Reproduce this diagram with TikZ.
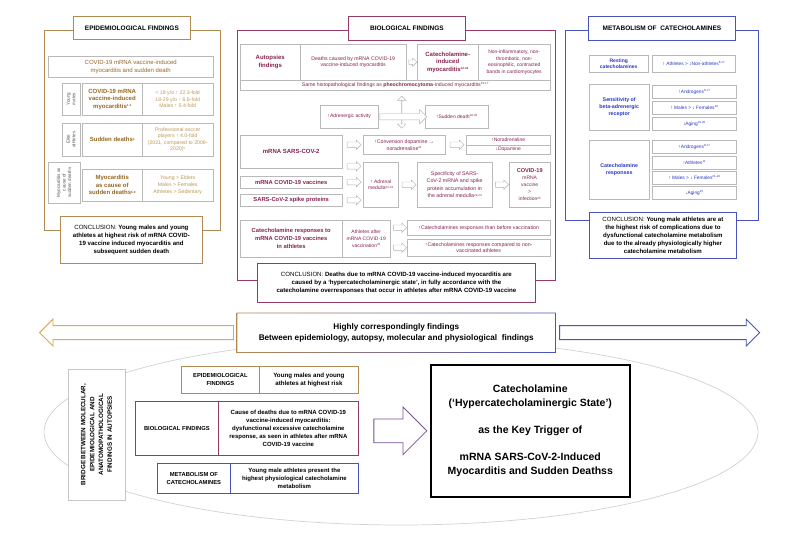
\documentclass[tikz,border=0pt]{standalone}
\usepackage{fontspec}
\setmainfont{Liberation Sans}
\usetikzlibrary{positioning,calc,shapes.arrows}

\definecolor{epicol}{RGB}{178,138,84}
\definecolor{epitxt}{RGB}{150,104,36}
\definecolor{epilight}{RGB}{192,152,88}
\definecolor{biocol}{RGB}{150,58,100}
\definecolor{biotxt}{RGB}{135,35,80}
\definecolor{metcol}{RGB}{72,84,188}
\definecolor{mettxt}{RGB}{40,55,195}
\definecolor{goldarr}{RGB}{226,168,76}
\definecolor{purparr}{RGB}{118,84,150}

\newcommand{\fz}[2]{\fontsize{#1}{#2}\selectfont}
\newcommand{\rf}[1]{\raisebox{1.6pt}{\fz{3}{3}#1}}

\begin{document}
\begin{tikzpicture}[x=1pt, y=-1pt,
  cell/.style={draw=gray!55, fill=white, align=center, inner xsep=1.5pt, inner ysep=0pt, line width=0.4pt},
  wh/.style 2 args={anchor=north west, minimum width=#1, minimum height=#2},
  frm/.style={draw, line width=0.8pt, inner sep=0pt},
  ttl/.style={cell, line width=0.8pt, font=\bfseries\fz{6.5}{7.5}},
  conc/.style={cell, line width=0.8pt, font=\bfseries\fz{6.1}{8.2}},
  blk/.style={single arrow, draw=gray!60, fill=white, inner xsep=0pt, inner ysep=2.5pt, line width=0.4pt,
    minimum height=14, single arrow head extend=2pt},
  bigarr/.style={single arrow, fill=white, inner xsep=0pt, inner ysep=6.5pt, line width=0.9pt,
    single arrow head extend=6.5pt},
]
\useasboundingbox[fill=white] (0,0) rectangle (800,533);

% epidemiological findings
\node[frm, draw=epicol, wh={176}{200}] (epiframe) at (44,30) {};
\node[ttl, draw=epicol, wh={117}{23}] (epititle) at (73,16) {EPIDEMIOLOGICAL FINDINGS};
\node[cell, wh={165}{21}, text=epitxt, font=\fz{6}{7.8}] (epitop) at (48,56) {COVID-19 mRNA vaccine-induced\\myocarditis and sudden death};

\node[cell, rotate=90, minimum width=32, minimum height=18, text=black!65, font=\fz{4.6}{5.4}] (ymlab) at (71,99) {Young\\males};
\node[cell, wh={60}{32}, text=epitxt, font=\bfseries\fz{6}{7.6}] (ymmain) at (82,83) {COVID-19 mRNA\\vaccine-induced\\myocarditis\rf{1-3}};
\node[cell, wh={71}{32}, text=epilight, font=\fz{5.2}{6.6}] (ymval) at (142,83) {< 18 y/o ↑ 22.3-fold\\18-29 y/o ↑ 6.8-fold\\Males ↑ 5.4-fold};

\node[cell, rotate=90, minimum width=33, minimum height=18, text=black!65, font=\fz{4.6}{5.4}] (ealab) at (71,139.5) {Elite\\athletes};
\node[cell, wh={60}{33}, text=epitxt, font=\bfseries\fz{6}{7.6}] (eamain) at (82,123) {Sudden deaths\rf{4}};
\node[cell, wh={71}{33}, text=epilight, font=\fz{5.2}{6.4}] (eaval) at (142,123) {Professional soccer\\players ↑ 4.0-fold\\(2021, compared to 2009-\\2020)\rf{5}};

\node[cell, rotate=90, minimum width=41, minimum height=32, text=black!65, font=\fz{4.6}{5.6}] (mclab) at (64,182.5) {Myocarditis as\\cause of\\sudden deaths};
\node[cell, wh={60}{32}, text=epitxt, font=\bfseries\fz{6}{7.6}] (mcmain) at (82,169) {Myocarditis\\as cause of\\sudden deaths\rf{6-9}};
\node[cell, wh={71}{32}, text=epilight, font=\fz{5.2}{6.6}] (mcval) at (142,169) {Young > Elders\\Males > Females\\Athletes > Sedentary};

\node[conc, draw=epicol, wh={142}{47}] (epiconc) at (60,216) {\textmd{CONCLUSION:} Young males and young\\athletes at highest risk of mRNA COVID-\\19 vaccine induced myocarditis and\\subsequent sudden death};

% biological findings
\node[frm, draw=biocol, wh={318}{250}] (bioframe) at (237,30) {};
\node[ttl, draw=biocol, wh={117}{24}] (biotitle) at (348,16) {BIOLOGICAL FINDINGS};

\node[cell, wh={60}{36}, text=biotxt, font=\bfseries\fz{6}{7.5}] (auto1) at (240,44) {Autopsies\\findings};
\node[cell, wh={106}{36}, text=biotxt, font=\fz{5.2}{6.5}] (auto2) at (300,44) {Deaths caused by mRNA COVID-19\\vaccine-induced myocarditis};
\node[cell, wh={61}{36}, text=biotxt, font=\bfseries\fz{6}{7.3}] (auto3) at (417,44) {Catecholamine-\\induced\\myocarditis\rf{12-14}};
\node[cell, wh={72}{36}, text=biotxt, font=\fz{5}{6.8}] (auto4) at (478,44) {Non-inflammatory, non-\\thrombotic, non-\\eosinophilic, contracted\\bands in cardiomyocytes};
\node[cell, wh={310}{10}, text=biotxt, font=\fz{5.2}{6}] (same) at (240,80) {Same histopathological findings as \textbf{pheochromocytoma}-induced myocarditis\rf{15-17}};
\node[blk, minimum height=8, inner ysep=2pt] (aau) at ($(auto2.east)!.5!(auto3.west)$) {};

\node[cell, wh={58}{23}, text=biotxt, font=\fz{5}{6}] (adr) at (320,105) {↑Adrenergic activity};
\node[cell, wh={63}{23}, text=biotxt, font=\fz{5}{6}] (sud) at (425,105) {↑Sudden death\rf{18-20}};
\node[double arrow, draw=gray!60, fill=white, inner xsep=0pt, inner ysep=3pt, line width=0.4pt, shape border rotate=90,
  minimum height=32, double arrow head extend=4pt] (vcross) at ($(adr.east)!.5!(sud.west)+(0,-4.5)$) {};
\node[blk, minimum height=47, inner ysep=3pt, single arrow head extend=4pt] (hcross) at ($(adr.east)!.5!(sud.west)$) {};

\node[cell, wh={102}{33}, text=biotxt, font=\bfseries\fz{6}{7}] (sars) at (240,135) {mRNA SARS-COV-2};
\node[cell, wh={82}{19}, text=biotxt, font=\fz{5.2}{7}] (conv) at (363,135) {↑Conversion dopamine →\\noradrenaline\rf{21}};
\node[cell, wh={84}{10}, text=biotxt, font=\fz{5}{6}] (nor) at (466,135) {↑Noradrenaline};
\node[cell, wh={84}{9}, text=biotxt, font=\fz{5}{6}] (dop) at (466,145) {↓Dopamine};
\node[cell, wh={102}{12}, text=biotxt, font=\bfseries\fz{5.8}{7}] (vac) at (240,176) {mRNA COVID-19 vaccines};
\node[cell, wh={102}{12}, text=biotxt, font=\bfseries\fz{5.8}{7}] (spike) at (240,194) {SARS-CoV-2 spike proteins};
\node[cell, wh={35}{45}, text=biotxt, font=\fz{5}{6.8}] (med) at (363,162) {↑ Adrenal\\medulla\rf{22-24}};
\node[cell, wh={75}{45}, text=biotxt, font=\fz{5.3}{7.6}] (spec) at (417,162) {Specificity of SARS-\\CoV-2 mRNA and spike\\protein accumulation in\\the adrenal medulla\rf{22-24}};
\node[cell, wh={41}{45}, text=biotxt, font=\fz{5}{7}] (inf) at (509,162) {\textbf{\fz{5.6}{7}COVID-19}\\mRNA\\vaccine\\>\\infection\rf{25}};

\node[blk] (asc) at ($(sars.east |- conv.west)!.5!(conv.west)$) {};
\node[blk] (acn) at ($(conv.east)!.5!(conv.east -| nor.west)$) {};
\node[blk] (asm) at ($(sars.south east)!.5!(sars.south east -| med.west)+(0,-2)$) {};
\node[blk] (avm) at ($(vac.east)!.5!(vac.east -| med.west)$) {};
\node[blk] (apm) at ($(spike.east)!.5!(spike.east -| med.west)$) {};
\node[blk] (ams) at ($(med.east)!.5!(spec.west)$) {};
\node[blk, minimum height=13] (asi) at ($(spec.east)!.5!(inf.west)$) {};

\node[cell, wh={102}{37}, text=biotxt, font=\bfseries\fz{5.8}{8}] (cat) at (240,220) {Catecholamine responses to\\mRNA COVID-19 vaccines\\in athletes};
\node[cell, wh={48}{37}, text=biotxt, font=\fz{5}{7}] (ath) at (342,220) {Athletes after\\mRNA COVID-19\\vaccination\rf{26}};
\node[cell, wh={143}{15}, text=biotxt, font=\fz{5.2}{6.5}] (r1) at (407,220) {↑Catecholamines responses than before vaccination};
\node[cell, wh={143}{17}, text=biotxt, font=\fz{5.2}{6.5}] (r2) at (407,239) {↑Catecholamines responses compared to non-\\vaccinated athletes};
\node[blk, minimum height=13] (ar1) at ($(ath.east |- r1.west)!.5!(r1.west)$) {};
\node[blk, minimum height=13] (ar2) at ($(ath.east |- r2.west)!.5!(r2.west)$) {};

\node[conc, draw=biocol, wh={278}{39}] (bioconc) at (257,263) {\textmd{CONCLUSION:} Deaths due to mRNA COVID-19 vaccine-induced myocarditis are\\caused by a ‘hypercatecholaminergic state’, in fully accordance with the\\catecholamine overresponses that occur in athletes after mRNA COVID-19 vaccine};

% metabolism of catecholamines
\node[frm, draw=metcol, wh={193}{190}] (metframe) at (565,30) {};
\node[ttl, draw=metcol, wh={147}{24}] (mettitle) at (588,16) {METABOLISM OF\ \ CATECHOLAMINES};

\node[cell, wh={59}{17}, text=mettxt, font=\bfseries\fz{5}{6.3}] (rest) at (589,55) {Resting\\catecholamines};
\node[cell, wh={83}{17}, text=mettxt, font=\fz{4.8}{6}] (restv) at (652,55) {↑ Athletes > ↓Non-athletes\rf{8-17}};

\node[cell, wh={60}{46}, text=mettxt, font=\bfseries\fz{5.3}{7.3}] (sens) at (589,84) {Sensitivity of\\beta-adrenergic\\receptor};
\node[cell, wh={84}{13}, text=mettxt, font=\fz{4.8}{6}] (s1) at (652,85) {↑Androgens\rf{8-17}};
\node[cell, wh={84}{13}, text=mettxt, font=\fz{4.8}{6}] (s2) at (652,101) {↑ Males > ↓ Females\rf{18}};
\node[cell, wh={84}{13}, text=mettxt, font=\fz{4.8}{6}] (s3) at (652,117) {↓Aging\rf{19-20}};

\node[cell, wh={60}{59}, text=mettxt, font=\bfseries\fz{5.3}{7.3}] (cresp) at (589,140) {Catecholamine\\responses};
\node[cell, wh={84}{13}, text=mettxt, font=\fz{4.8}{6}] (c1) at (652,140) {↑Androgens\rf{8-17}};
\node[cell, wh={84}{13}, text=mettxt, font=\fz{4.8}{6}] (c2) at (652,156) {↑Athletes\rf{11}};
\node[cell, wh={84}{13}, text=mettxt, font=\fz{4.8}{6}] (c3) at (652,171) {↑ Males > ↓ Females\rf{21-24}};
\node[cell, wh={84}{13}, text=mettxt, font=\fz{4.8}{6}] (c4) at (652,186) {↓Aging\rf{25}};

\node[conc, draw=metcol, wh={147}{46}] (metconc) at (589,212) {\textmd{CONCLUSION:} Young male athletes are at\\the highest risk of complications due to\\dysfunctional catecholamine metabolism\\due to the already physiologically higher\\catecholamine metabolism};

% banner with the two arrows
\draw[gray!35, line width=0.7pt] (401,432) ellipse [x radius=357pt, y radius=93pt];
\coordinate (ltip) at (43,332.5);
\coordinate (rtip) at (757,332.5);
\node[cell, draw=none, wh={318}{39}, font=\bfseries\fz{8.2}{11}] (banner) at (237,313) {Highly correspondingly findings\\Between epidemiology, autopsy, molecular and physiological\ \ findings};
\shade[left color=epicol, middle color=biocol, right color=metcol, even odd rule]
  ($(banner.north west)+(-0.4pt,0.4pt)$) rectangle ($(banner.south east)+(0.4pt,-0.4pt)$)
  ($(banner.north west)+(0.4pt,-0.4pt)$) rectangle ($(banner.south east)+(-0.4pt,0.4pt)$);
\node[bigarr, draw=goldarr, shape border rotate=180, minimum height=194] (larr) at ($(ltip)!.5!(banner.west)$) {};
\node[bigarr, draw=metcol, minimum height=200] (rarr) at ($(banner.east)!.5!(rtip)$) {};

% bridge and synthesis
\node[cell, draw=gray!45, line width=0.6pt, rotate=90, minimum width=131, minimum height=57, font=\bfseries\fz{6.3}{8.8}] (bridge) at (96.5,434.5) {BRIDGE BETWEEN MOLECULAR,\\EPIDEMIOLOGICAL AND\\ANATOMOPATHOLOGICAL\\FINDINGS IN AUTOPSIES};

\node[cell, draw=epicol, line width=0.8pt, wh={78}{27}, font=\bfseries\fz{5.8}{8}] (sepi) at (181,366) {EPIDEMIOLOGICAL\\FINDINGS};
\node[cell, draw=epicol, line width=0.8pt, wh={99}{27}, font=\bfseries\fz{6.2}{8}] (sepit) at (259,366) {Young males and young\\athletes at highest risk};
\node[cell, draw=biocol, line width=0.8pt, wh={83}{54}, font=\bfseries\fz{5.8}{8}] (sbio) at (135,401) {BIOLOGICAL FINDINGS};
\node[cell, draw=biocol, line width=0.8pt, wh={140}{54}, font=\bfseries\fz{6}{8.1}] (sbiot) at (218,401) {Cause of deaths due to mRNA COVID-19\\vaccine-induced myocarditis:\\dysfunctional excessive catecholamine\\response, as seen in athletes after mRNA\\COVID-19 vaccine};
\node[cell, draw=metcol, line width=0.8pt, wh={73}{30}, font=\bfseries\fz{5.8}{8}] (smet) at (157,463) {METABOLISM OF\\CATECHOLAMINES};
\node[cell, draw=metcol, line width=0.8pt, wh={128}{30}, font=\bfseries\fz{6}{8}] (smett) at (230,463) {Young male athletes present the\\highest physiological catecholamine\\metabolism};

\node[cell, draw=black, line width=1.6pt, wh={199}{132}, font=\bfseries\fz{10.5}{14}] (key) at (430,364) {Catecholamine\\(‘Hypercatecholaminergic State’)\\[13pt]as the Key Trigger of\\[13pt]mRNA SARS-CoV-2-Induced\\Myocarditis and Sudden Deathss};
\node[single arrow, draw=purparr, fill=white, inner xsep=0pt, inner ysep=11.5pt, line width=0.8pt,
  minimum height=53, single arrow head extend=12pt] (keyarr) at ($(sbiot.east |- key.west)!.5!(key.west)$) {};
\end{tikzpicture}
\end{document}
